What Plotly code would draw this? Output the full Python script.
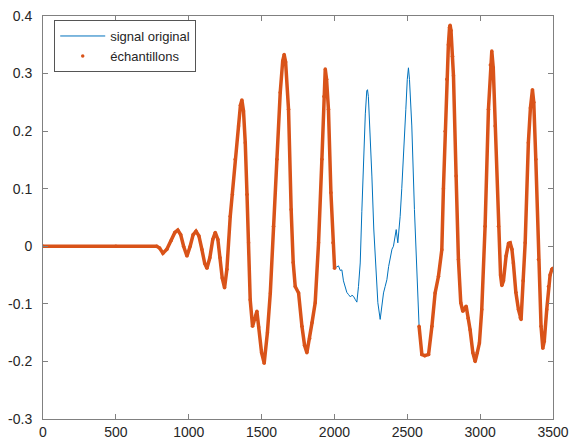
import plotly.graph_objects as go

# Original signal (x = sample index, y = amplitude)
signal_x = [0, 500, 780, 800, 823, 850, 880, 905, 925, 945, 965, 988, 1010, 1030, 1050, 1070,
            1090, 1110, 1125, 1145, 1165, 1182, 1200, 1215, 1230, 1246, 1262, 1285, 1300, 1319,
            1342, 1355, 1365, 1376, 1388, 1400, 1411, 1422, 1438, 1452, 1468, 1480, 1500, 1518,
            1540, 1560, 1582, 1605, 1628, 1645, 1655, 1665, 1685, 1703, 1717, 1731, 1754, 1777,
            1795, 1811, 1830, 1846, 1868, 1891, 1914, 1928, 1937, 1946, 1959, 1976, 1990, 2001,
            2015, 2028, 2040, 2051, 2062, 2074, 2085, 2097, 2110, 2120, 2131, 2142, 2154, 2165,
            2177, 2188, 2199, 2212, 2222, 2227, 2233, 2245, 2257, 2270, 2280, 2298, 2314, 2325,
            2337, 2348, 2360, 2372, 2383, 2395, 2405, 2415, 2424, 2435, 2445, 2451, 2462, 2474,
            2490, 2500, 2508, 2515, 2531, 2549, 2566, 2581, 2600, 2620, 2646, 2669, 2691, 2714,
            2737, 2748, 2760, 2771, 2782, 2790, 2794, 2800, 2810, 2817, 2835, 2851, 2867, 2881,
            2893, 2904, 2918, 2931, 2950, 2966, 2980, 2995, 3011, 3034, 3057, 3070, 3080, 3090,
            3103, 3126, 3140, 3149, 3160, 3178, 3195, 3206, 3218, 3228, 3245, 3263, 3275, 3281,
            3295, 3309, 3331, 3345, 3359, 3368, 3382, 3400, 3418, 3430, 3440, 3457, 3469, 3480,
            3492, 3500]
signal_y = [0.0, 0.0, 0.0, -0.003, -0.012, -0.005, 0.01, 0.024, 0.028, 0.02, 0.0, -0.017, 0.0,
            0.02, 0.026, 0.018, -0.005, -0.03, -0.038, -0.02, 0.012, 0.024, 0.012, -0.02, -0.055,
            -0.072, -0.04, 0.052, 0.09, 0.151, 0.209, 0.245, 0.254, 0.235, 0.18, 0.09, 0.006,
            -0.093, -0.139, -0.125, -0.113, -0.14, -0.185, -0.203, -0.15, -0.081, 0.035, 0.151,
            0.267, 0.322, 0.333, 0.32, 0.238, 0.064, -0.028, -0.07, -0.081, -0.139, -0.172,
            -0.185, -0.16, -0.133, -0.098, 0.006, 0.151, 0.26, 0.308, 0.29, 0.238, 0.093, 0.006,
            -0.038, -0.036, -0.034, -0.042, -0.041, -0.06, -0.07, -0.08, -0.084, -0.088, -0.085,
            -0.087, -0.092, -0.097, -0.07, -0.029, 0.06, 0.151, 0.23, 0.27, 0.272, 0.26, 0.2,
            0.122, 0.03, -0.023, -0.098, -0.127, -0.1, -0.081, -0.07, -0.058, -0.035, -0.017,
            -0.005, 0.0, 0.02, 0.029, 0.006, 0.035, 0.052, 0.1, 0.151, 0.238, 0.29, 0.31, 0.29,
            0.209, 0.064, -0.052, -0.139, -0.188, -0.19, -0.188, -0.139, -0.081, -0.052, -0.006,
            0.1, 0.2, 0.29, 0.35, 0.38, 0.384, 0.375, 0.33, 0.296, 0.122, -0.023, -0.098, -0.113,
            -0.108, -0.104, -0.125, -0.145, -0.185, -0.2, -0.185, -0.168, -0.11, 0.035, 0.238,
            0.315, 0.339, 0.31, 0.209, 0.035, -0.05, -0.068, -0.06, -0.017, 0.005, 0.006, -0.005,
            -0.029, -0.08, -0.11, -0.124, -0.127, -0.06, 0.006, 0.18, 0.24, 0.272, 0.25, 0.151,
            -0.023, -0.139, -0.177, -0.165, -0.11, -0.07, -0.05, -0.04, -0.038]

# Samples are missing between these two indices
gap_start = 2001
gap_end = 2581

x_ticks = [0, 500, 1000, 1500, 2000, 2500, 3000, 3500]
y_ticks = [-0.3, -0.2, -0.1, 0, 0.1, 0.2, 0.3, 0.4]

BLUE = "#0072BD"
ORANGE = "#D95319"
AXIS = "#808080"
TEXT = "#262626"

keep = [not (gap_start < xv < gap_end) for xv in signal_x]
samp_x = [xv for xv, k in zip(signal_x, keep) if k]
samp_y = [yv for yv, k in zip(signal_y, keep) if k]
# line through the samples with a break across the gap
line_y = [yv if k else None for yv, k in zip(signal_y, keep)]

fig = go.Figure()
fig.add_trace(go.Scatter(x=signal_x, y=signal_y, mode="lines", name="signal original",
                         line=dict(color=BLUE, width=1)))
fig.add_trace(go.Scatter(x=signal_x, y=line_y, mode="lines", showlegend=False,
                         connectgaps=False, line=dict(color=ORANGE, width=3.5),
                         hoverinfo="skip"))
fig.add_trace(go.Scatter(x=samp_x, y=samp_y, mode="markers", name="échantillons",
                         marker=dict(color=ORANGE, size=3.5)))

axis_common = dict(showgrid=False, zeroline=False, showline=True, linecolor=AXIS,
                   linewidth=1, mirror="allticks", ticks="inside", ticklen=5,
                   automargin=False,
                   tickcolor=AXIS, tickfont=dict(family="Liberation Sans", size=14, color=TEXT))

fig.update_xaxes(range=[0, 3500], tickvals=x_ticks, ticktext=[str(v) for v in x_ticks],
                 ticklabelstandoff=0, **axis_common)
fig.update_yaxes(range=[-0.3, 0.4], tickvals=y_ticks,
                 ticktext=[("%g" % v) for v in y_ticks], ticklabelstandoff=7, **axis_common)

fig.update_layout(
    width=572, height=443,
    margin=dict(l=43, r=19, t=16, b=24),
    paper_bgcolor="white", plot_bgcolor="white",
    showlegend=True,
    legend=dict(x=0.022, y=0.99, xanchor="left", yanchor="top",
                bgcolor="white", bordercolor="#555555", borderwidth=1,
                font=dict(family="Liberation Sans", size=13, color=TEXT),
                tracegroupgap=0, itemwidth=45),
    font=dict(family="Liberation Sans", color=TEXT),
)

fig.write_html("out.html")
